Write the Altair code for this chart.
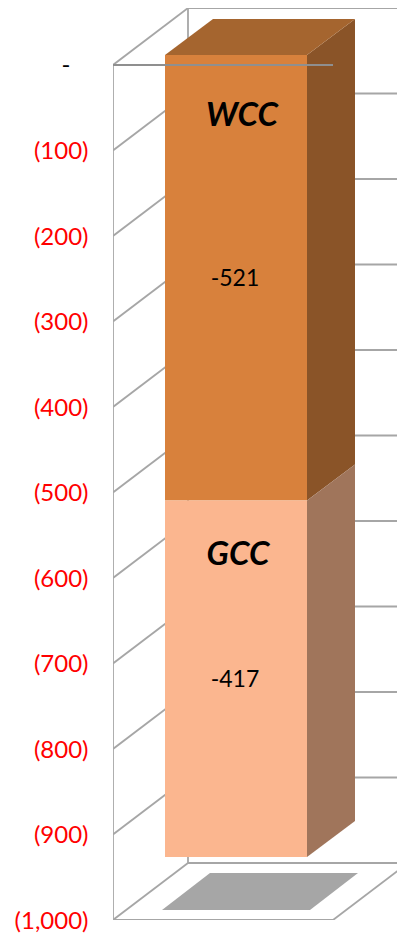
import altair as alt
import pandas as pd

series = ["WCC", "GCC"]
values = [-521, -417]
front_colors = ["#d8813c", "#fbb68f"]
side_colors = ["#8a5428", "#a0755b"]
top_color = "#a5652f"
ticks = list(range(-1000, 1, 100))
zero_label = "-"

# frame geometry: x in plot px, y in axis units (0.855 px per unit)
PX = 0.855
W = 284
H = 912
Y_TOP = 57 / PX
WALL_DX, WALL_DY = 75, 57 / PX
FRONT_W = 220
BAR_L, BAR_R = 52, 194
BAR_DX, BAR_DY = 48, 36 / PX
BAR_SHIFT = 10 / PX
LINE = "#a6a6a6"

xs = alt.Scale(domain=[0, W], range=[0, W], nice=False, zero=False)
ys = alt.Scale(domain=[-1000, Y_TOP], nice=False, zero=False)
FONT = "Lato"
YAX = alt.Axis(
    values=ticks, domain=False, ticks=False, grid=False, labelPadding=25, title=None,
    labelFont=FONT, labelFontSize=24, labelOverlap=False, labelFlush=False, labelOffset=1,
    labelExpr="datum.value == 0 ? '' : '(' + format(-datum.value, ',') + ')'",
    labelColor="#ff0000",
)
XENC = dict(scale=xs, axis=None)
YENC = dict(scale=ys, axis=YAX)


def face(rows, color):
    df = pd.DataFrame(rows, columns=["x", "y", "y2"])
    return alt.Chart(df).mark_area(color=color, opacity=1, clip=True).encode(
        x=alt.X("x:Q", **XENC),
        y=alt.Y("y:Q", **YENC),
        y2="y2:Q",
    )


def rules(segs, color, width):
    df = pd.DataFrame(segs, columns=["x", "y", "x2", "y2"])
    return alt.Chart(df).mark_rule(color=color, strokeWidth=width, clip=True).encode(
        x=alt.X("x:Q", **XENC),
        y=alt.Y("y:Q", **YENC),
        x2="x2:Q",
        y2="y2:Q",
    )


# walls and floor
segs = []
for t in ticks:
    segs.append((0, t, WALL_DX, t + WALL_DY))
    segs.append((WALL_DX, t + WALL_DY, W + 5, t + WALL_DY))
segs.append((0, -1000, 0, 0))
segs.append((WALL_DX, -1000 + WALL_DY, WALL_DX, WALL_DY))
segs.append((0, -1000, FRONT_W, -1000))
segs.append((FRONT_W, -1000, FRONT_W + WALL_DX, -1000 + WALL_DY))
back = rules(segs, LINE, 1.8)

# floor shadow
sl, sr = 49, 197
sb, sd = -1000 + 10 / PX, 37 / PX
shadow = face([(sl, sb, sb), (sl + 48, sb + sd, sb), (sr, sb + sd, sb), (sr + 48, sb + sd, sb + sd)], "#a6a6a6")

# stacked bar faces, drawn from the values
layers = [back, shadow]
cum = 0
text_rows = []
name_y = {"WCC": -57.3 - 2.3, "GCC": -570.8 - 2.3}
name_x = {"WCC": 129, "GCC": 125}
for s, v, fc, sc in zip(series, values, front_colors, side_colors):
    top = cum + BAR_SHIFT
    bot = cum + v + BAR_SHIFT
    layers.append(face([(BAR_L, top, bot), (BAR_R, top, bot)], fc))
    layers.append(face([(BAR_R, top, bot), (BAR_R + BAR_DX, top + BAR_DY, bot + BAR_DY)], sc))
    text_rows.append({"x": (BAR_L + BAR_R) / 2 - 1, "y": (top + bot) / 2 - 1.2, "t": str(v),
                      "nx": name_x[s], "ny": name_y[s], "n": s})
    cum += v
t0 = BAR_SHIFT
layers.append(face([(BAR_L, t0, t0), (BAR_L + BAR_DX, t0 + BAR_DY, t0),
                    (BAR_R, t0 + BAR_DY, t0), (BAR_R + BAR_DX, t0 + BAR_DY, t0 + BAR_DY)], top_color))

# front top line crosses over the bar
layers.append(rules([(0, 0, FRONT_W, 0)], "#8f8f8f", 1.8))

tdf = pd.DataFrame(text_rows)
layers.append(alt.Chart(tdf).mark_text(font=FONT, fontSize=23, color="black").encode(
    x=alt.X("x:Q", **XENC), y=alt.Y("y:Q", **YENC), text="t:N"))
layers.append(alt.Chart(tdf).mark_text(font=FONT, fontSize=33, fontWeight="bold", fontStyle="italic", color="black").encode(
    x=alt.X("nx:Q", **XENC), y=alt.Y("ny:Q", **YENC), text="n:N"))

# the zero tick reads "-" in black, set inward from the other labels
zdf = pd.DataFrame({"x": [-47], "y": [-1.2], "t": [zero_label]})
layers.append(alt.Chart(zdf).mark_text(font=FONT, fontSize=24, color="black").encode(
    x=alt.X("x:Q", **XENC), y=alt.Y("y:Q", **YENC), text="t:N"))

chart = alt.layer(*layers).properties(
    width=W, height=H,
    autosize=alt.AutoSizeParams(type="none"),
    padding={"left": 105, "top": 0, "right": 0, "bottom": 13},
    background="white",
).configure_view(stroke=None)

chart.save("out.html", embed_options={"renderer": "svg", "actions": False})
